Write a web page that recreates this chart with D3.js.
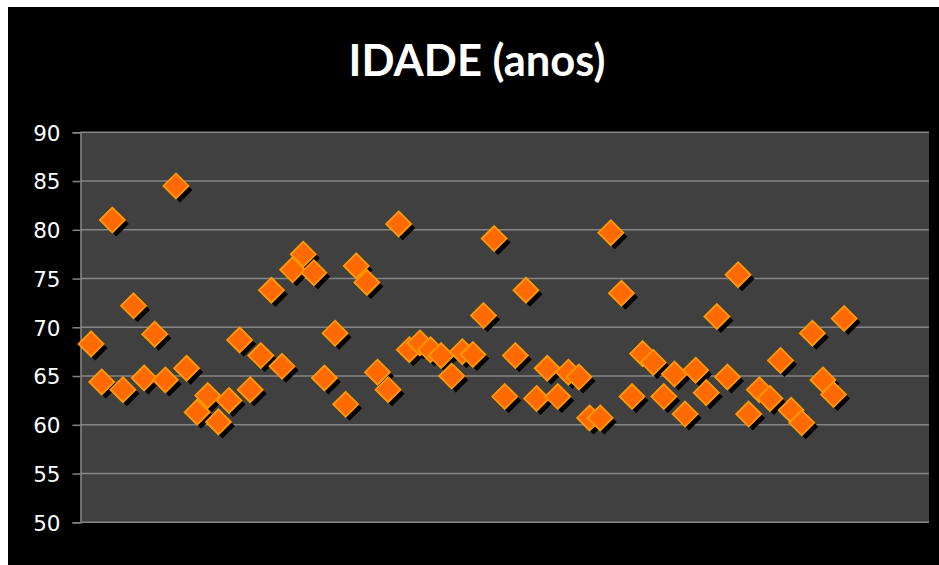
<!DOCTYPE html>
<html>
<head>
<meta charset="utf-8">
<script src="https://cdn.jsdelivr.net/npm/d3@7"></script>
<style>
  html, body { margin: 0; padding: 0; background: #ffffff; }
  svg { display: block; }
</style>
</head>
<body>
<svg id="chart" width="939" height="565"></svg>
<script>
// ---- data ----
const title = "IDADE (anos)";
const yTicks = [50, 55, 60, 65, 70, 75, 80, 85, 90];
const ages = [
  68.3, 64.4, 81.0, 63.6, 72.2, 64.8, 69.3, 64.6, 84.5, 65.8,
  61.3, 63.0, 60.3, 62.5, 68.7, 63.6, 67.1, 73.8, 66.0, 75.9,
  77.5, 75.6, 64.8, 69.4, 62.1, 76.3, 74.6, 65.4, 63.6, 80.6,
  67.7, 68.4, 67.7, 67.1, 65.0, 67.5, 67.2, 71.2, 79.1, 62.9,
  67.1, 73.8, 62.7, 65.8, 62.9, 65.4, 64.9, 60.7, 60.7, 79.7,
  73.5, 62.9, 67.3, 66.4, 62.9, 65.2, 61.1, 65.6, 63.3, 71.1,
  64.9, 75.4, 61.1, 63.6, 62.7, 66.6, 61.5, 60.2, 69.4, 64.6,
  63.1, 70.9
];
const xDomain = [0, 80];
const yDomain = [50, 90];

// ---- layout ----
const svg = d3.select("#chart");
const plot = { left: 80.5, right: 929, top: 132.3, bottom: 522.3 };

svg.append("rect")
  .attr("x", 8).attr("y", 7).attr("width", 931).attr("height", 558)
  .attr("fill", "#000000");

const x = d3.scaleLinear().domain(xDomain).range([plot.left, plot.right]);
const y = d3.scaleLinear().domain(yDomain).range([plot.bottom, plot.top]);

svg.append("rect")
  .attr("x", plot.left).attr("y", plot.top)
  .attr("width", plot.right - plot.left).attr("height", plot.bottom - plot.top)
  .attr("fill", "#404040");

// gridlines
svg.append("g").selectAll("line").data(yTicks).join("line")
  .attr("x1", plot.left).attr("x2", plot.right)
  .attr("y1", d => y(d)).attr("y2", d => y(d))
  .attr("stroke", "#858585").attr("stroke-width", 1.5);

// y axis
const yAxis = d3.axisLeft(y).tickValues(yTicks).tickSize(8).tickPadding(12).tickFormat(d3.format("d"));
const gy = svg.append("g").attr("transform", `translate(${plot.left},0)`).call(yAxis);
gy.select(".domain").attr("stroke", "#858585").attr("stroke-width", 1.5);
gy.selectAll(".tick line").attr("stroke", "#858585").attr("stroke-width", 1.5);
gy.selectAll(".tick text")
  .attr("fill", "#ffffff")
  .attr("font-family", "DejaVu Sans, sans-serif")
  .attr("font-size", 21.5)
  .attr("dy", "0.36em");

// markers
const half = 12.5;
const diamond = `M0,${-half}L${half},0L0,${half}L${-half},0Z`;
const pts = svg.append("g");
pts.selectAll("path.shadow").data(ages).join("path")
  .attr("class", "shadow")
  .attr("d", diamond)
  .attr("transform", (d, i) => `translate(${x(i + 1) + 4},${y(d) + 4})`)
  .attr("fill", "#000000");
pts.selectAll("path.mark").data(ages).join("path")
  .attr("class", "mark")
  .attr("d", diamond)
  .attr("transform", (d, i) => `translate(${x(i + 1)},${y(d)})`)
  .attr("fill", "#ff6a00")
  .attr("stroke", "#ff9a00")
  .attr("stroke-width", 1.8);

// title
const t = svg.append("text")
  .attr("x", 477).attr("y", 76)
  .attr("text-anchor", "middle")
  .attr("fill", "#ffffff")
  .attr("font-family", "Lato, 'Open Sans', sans-serif")
  .attr("font-weight", "bold")
  .attr("font-size", 43)
  .text(title);
const w = t.node().getComputedTextLength();
if (w > 0) t.attr("font-size", 43 * 257 / w);
</script>
</body>
</html>
